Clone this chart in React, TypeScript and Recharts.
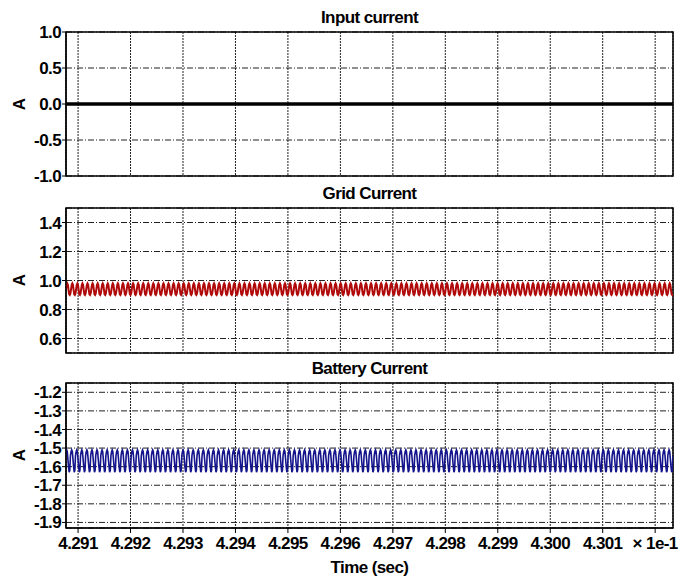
import { LineChart, Line, XAxis, YAxis, CartesianGrid, ReferenceArea } from 'recharts';

// time axis (display units are x 1e-1 s)
const timeDomain = [4.29077, 4.30234];
const timeTicks = [4.291, 4.292, 4.293, 4.294, 4.295, 4.296, 4.297, 4.298, 4.299, 4.3, 4.301, 4.302];
const rippleCycles = 120;
const ripplePeriod = 0.0000965;

// y ticks per panel
const inputTicks = [-1, -0.5, 0, 0.5, 1];
const gridTicks = [0.6, 0.8, 1.0, 1.2, 1.4];
const batteryTicks = [-1.9, -1.8, -1.7, -1.6, -1.5, -1.4, -1.3, -1.2];

// one switching period of each trace
const inputCycle = [0, 0, 0, 0, 0, 0, 0, 0];
const gridCycle = [0.94, 0.97, 0.98, 0.97, 0.935, 0.905, 0.9, 0.91];
const batteryCycle = [-1.52, -1.51, -1.52, -1.56, -1.6, -1.63, -1.62, -1.54];

const rows: { t: number; input: number; grid: number; battery: number }[] = [];
for (let c = 0; c < rippleCycles; c++) {
  for (let k = 0; k < gridCycle.length; k++) {
    rows.push({
      t: timeDomain[0] + (c + k / gridCycle.length) * ripplePeriod,
      input: inputCycle[k],
      grid: gridCycle[k],
      battery: batteryCycle[k]
    });
  }
}

const FONT = '"Liberation Sans", Arial, sans-serif';
const tickStyle = { fontFamily: FONT, fontSize: 17, fontWeight: 700, fill: '#000', letterSpacing: -0.6 };

type PanelProps = {
  top: number;
  height: number;
  margin: { top: number; right: number; bottom: number; left: number };
  dataKey: 'input' | 'grid' | 'battery';
  color: string;
  strokeWidth: number;
  domain: number[];
  ticks: number[];
  fmt: (v: number) => string;
  showX?: boolean;
};

const Panel = ({ top, height, margin, dataKey, color, strokeWidth, domain, ticks, fmt, showX }: PanelProps) => (
  <div style={{ position: 'absolute', left: 0, top }}>
    <LineChart width={686} height={height} data={rows} margin={margin}>
      <CartesianGrid vertical={false} stroke="#222" strokeDasharray="6 2 1 2" />
      <CartesianGrid horizontal={false} stroke="#222" strokeDasharray="2 1" />
      <XAxis
        type="number"
        dataKey="t"
        domain={timeDomain}
        ticks={timeTicks}
        interval={0}
        allowDataOverflow
        hide={!showX}
        height={showX ? 55 : 0}
        tick={tickStyle}
        tickSize={5}
        tickMargin={4}
        stroke="#000"
        tickFormatter={(v: number) => (v > 4.3015 ? '\u00d7 1e-1' : v.toFixed(3))}
        label={
          showX
            ? { value: 'Time (sec)', position: 'insideBottom', offset: 10, style: { ...tickStyle } }
            : undefined
        }
      />
      <YAxis
        type="number"
        domain={domain}
        ticks={ticks}
        interval={0}
        allowDataOverflow
        width={66}
        tick={tickStyle}
        tickSize={4}
        tickMargin={1}
        stroke="#000"
        tickFormatter={fmt}
      />
      <Line
        type="linear"
        dataKey={dataKey}
        stroke={color}
        strokeWidth={strokeWidth}
        dot={false}
        isAnimationActive={false}
      />
      <ReferenceArea y1={domain[0]} y2={domain[1]} fill="none" stroke="#000" strokeWidth={1.5} ifOverflow="visible" />
    </LineChart>
  </div>
);

const titleStyle = (top: number): React.CSSProperties => ({
  position: 'absolute',
  left: 66,
  width: 607,
  top,
  textAlign: 'center',
  fontFamily: FONT,
  fontWeight: 700,
  fontSize: 17,
  lineHeight: '20px',
  letterSpacing: -0.6,
  color: '#000'
});

const unitStyle = (cy: number): React.CSSProperties => ({
  position: 'absolute',
  left: 10,
  top: cy - 10,
  width: 20,
  height: 20,
  lineHeight: '20px',
  textAlign: 'center',
  fontFamily: FONT,
  fontWeight: 700,
  fontSize: 17,
  transform: 'rotate(-90deg)',
  color: '#000'
});

export default function App() {
  return (
    <div style={{ position: 'absolute', left: 0, top: 0, width: 686, height: 583, background: '#fff', overflow: 'hidden' }}>
      <div style={titleStyle(8)}>Input current</div>
      <div style={titleStyle(184)}>Grid Current</div>
      <div style={titleStyle(359)}>Battery Current</div>
      <div style={unitStyle(104)}>A</div>
      <div style={unitStyle(280)}>A</div>
      <div style={unitStyle(455)}>A</div>
      <Panel
        top={0}
        height={186}
        margin={{ top: 32, right: 13, bottom: 10, left: 0 }}
        dataKey="input"
        color="#000"
        strokeWidth={3.5}
        domain={[-1, 1]}
        ticks={inputTicks}
        fmt={(v) => v.toFixed(1)}
      />
      <Panel
        top={180}
        height={180}
        margin={{ top: 28, right: 13, bottom: 7, left: 0 }}
        dataKey="grid"
        color="#b00a0a"
        strokeWidth={2}
        domain={[0.5, 1.5]}
        ticks={gridTicks}
        fmt={(v) => v.toFixed(1)}
      />
      <Panel
        top={360}
        height={223}
        margin={{ top: 23, right: 13, bottom: 0, left: 0 }}
        dataKey="battery"
        color="#14148c"
        strokeWidth={1.6}
        domain={[-1.93, -1.15]}
        ticks={batteryTicks}
        fmt={(v) => v.toFixed(1)}
        showX
      />
    </div>
  );
}
